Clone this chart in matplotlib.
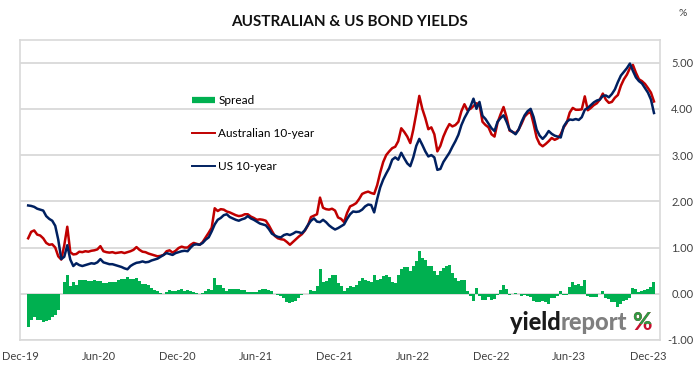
import pandas as pd
import matplotlib.pyplot as plt
import matplotlib.dates as mdates
from matplotlib.lines import Line2D
from matplotlib.transforms import Bbox
from matplotlib.ticker import FormatStrFormatter

plt.rcParams['font.family'] = ['Lato', 'DejaVu Sans']

# weekly closes
weeks = pd.date_range('2019-12-20', periods=209, freq='7D')

us_10y = [1.91, 1.90, 1.88, 1.84, 1.82, 1.80, 1.68, 1.62, 1.58, 1.47,
          1.17, 0.75, 0.80, 1.05, 0.74, 0.60, 0.66, 0.62, 0.60, 0.62,
          0.64, 0.66, 0.65, 0.68, 0.75, 0.68, 0.66, 0.64, 0.64, 0.62,
          0.60, 0.58, 0.55, 0.53, 0.60, 0.64, 0.67, 0.68, 0.70, 0.68,
          0.69, 0.72, 0.74, 0.76, 0.80, 0.84, 0.88, 0.86, 0.84, 0.88,
          0.90, 0.92, 0.93, 0.92, 1.00, 1.06, 1.07, 1.06, 1.10, 1.17,
          1.22, 1.35, 1.50, 1.60, 1.64, 1.70, 1.72, 1.66, 1.63, 1.60,
          1.58, 1.61, 1.63, 1.68, 1.63, 1.60, 1.56, 1.52, 1.50, 1.48,
          1.40, 1.30, 1.26, 1.23, 1.22, 1.27, 1.29, 1.27, 1.30, 1.34,
          1.33, 1.31, 1.38, 1.49, 1.58, 1.63, 1.56, 1.55, 1.60, 1.55,
          1.48, 1.43, 1.39, 1.42, 1.46, 1.50, 1.62, 1.72, 1.78, 1.77,
          1.78, 1.82, 1.89, 1.93, 1.92, 1.76, 2.05, 2.30, 2.47, 2.60,
          2.72, 2.90, 2.95, 2.90, 3.05, 2.93, 2.82, 2.76, 2.95, 3.20,
          3.35, 3.22, 3.08, 2.97, 3.00, 2.95, 2.68, 2.70, 2.85, 2.95,
          3.05, 3.18, 3.30, 3.44, 3.65, 3.80, 3.92, 4.05, 4.22, 4.00,
          4.15, 3.85, 3.78, 3.68, 3.58, 3.52, 3.72, 3.80, 3.86, 3.72,
          3.55, 3.50, 3.45, 3.55, 3.72, 3.86, 3.95, 4.00, 3.82, 3.55,
          3.42, 3.35, 3.42, 3.52, 3.46, 3.42, 3.40, 3.38, 3.62, 3.72,
          3.77, 3.76, 3.78, 3.76, 3.82, 3.98, 4.02, 4.08, 4.14, 4.18,
          4.20, 4.28, 4.29, 4.25, 4.32, 4.42, 4.58, 4.72, 4.80, 4.88,
          4.98, 4.82, 4.68, 4.60, 4.55, 4.45, 4.35, 4.20, 3.91]

aus_10y = [1.20, 1.34, 1.37, 1.28, 1.26, 1.20, 1.10, 1.06, 1.07, 1.00,
           0.81, 0.74, 1.05, 1.45, 0.90, 0.85, 0.86, 0.91, 0.90, 0.92,
           0.91, 0.93, 0.94, 0.96, 1.03, 0.92, 0.90, 0.89, 0.90, 0.88,
           0.89, 0.90, 0.88, 0.90, 0.92, 0.95, 1.01, 0.95, 0.91, 0.90,
           0.87, 0.85, 0.83, 0.81, 0.82, 0.84, 0.92, 0.94, 0.89, 0.93,
           0.99, 1.02, 1.00, 1.00, 1.06, 1.10, 1.08, 1.06, 1.12, 1.22,
           1.32, 1.43, 1.85, 1.79, 1.83, 1.82, 1.78, 1.76, 1.73, 1.70,
           1.68, 1.69, 1.72, 1.72, 1.67, 1.64, 1.60, 1.61, 1.60, 1.58,
           1.48, 1.36, 1.25, 1.20, 1.18, 1.17, 1.12, 1.06, 1.12, 1.18,
           1.24, 1.29, 1.37, 1.48, 1.66, 1.69, 1.72, 2.08, 1.86, 1.83,
           1.82, 1.84, 1.80, 1.65, 1.62, 1.55, 1.75, 1.89, 1.92, 1.96,
           2.05, 2.16, 2.19, 2.21, 2.18, 2.16, 2.35, 2.62, 2.85, 3.00,
           3.08, 3.15, 3.18, 3.30, 3.58, 3.50, 3.40, 3.26, 3.55, 3.90,
           4.28, 4.00, 3.80, 3.56, 3.60, 3.45, 3.08, 3.20, 3.40, 3.55,
           3.67, 3.62, 3.65, 3.72, 3.95, 4.10, 3.97, 4.00, 4.06, 4.12,
           4.10, 3.72, 3.65, 3.60, 3.45, 3.40, 3.70, 3.88, 4.04, 3.82,
           3.53, 3.50, 3.47, 3.55, 3.68, 3.83, 3.90, 3.93, 3.67, 3.38,
           3.24, 3.19, 3.24, 3.30, 3.37, 3.33, 3.36, 3.45, 3.60, 3.70,
           3.92, 4.02, 3.98, 3.98, 3.99, 4.27, 3.97, 4.02, 4.08, 4.12,
           4.20, 4.33, 4.20, 4.13, 4.15, 4.24, 4.30, 4.50, 4.64, 4.74,
           4.88, 4.95, 4.78, 4.64, 4.60, 4.54, 4.45, 4.35, 4.16]

spread = [a - u for a, u in zip(aus_10y, us_10y)]

green = '#00b050'
red = '#c00000'
navy = '#002060'
grey = '#d9d9d9'

fig = plt.figure(figsize=(6.99, 3.84), dpi=100)
ax = fig.add_axes([20/699, 44/384, 640/699, 300.5/384])

ax.bar(weeks, spread, width=7, color=green, linewidth=0, zorder=2)
ax.plot(weeks, aus_10y, color=red, lw=1.8, zorder=3)
ax.plot(weeks, us_10y, color=navy, lw=1.8, zorder=4)

ax.set_xlim(pd.Timestamp('2019-12-01'), pd.Timestamp('2023-12-29'))
ax.set_ylim(-1, 5.5)
ax.set_yticks(range(-1, 6))
ax.yaxis.set_major_formatter(FormatStrFormatter('%.2f'))
ax.yaxis.tick_right()
ax.yaxis.grid(True, color=grey, lw=1.3, zorder=0)
ax.set_axisbelow(True)
for s in ax.spines.values():
    s.set_color(grey)
    s.set_linewidth(1.2)

ax.xaxis.set_major_locator(mdates.MonthLocator(bymonth=(6, 12)))
ax.xaxis.set_major_formatter(mdates.DateFormatter('%b-%y'))
ax.tick_params(axis='x', length=0, pad=8, labelsize=8, labelcolor='#404040')
ax.tick_params(axis='y', length=0, pad=24, labelsize=8, labelcolor='#404040')
for lbl in ax.get_yticklabels():
    lbl.set_horizontalalignment('right')

handles = [Line2D([], [], color=green, lw=4.5, solid_capstyle='butt'),
           Line2D([], [], color=red, lw=1.4),
           Line2D([], [], color=navy, lw=1.4)]
ax.legend(handles, ['Spread', 'Australian 10-year', 'US 10-year'],
          loc='upper left', bbox_to_anchor=(0.269, 0.815), frameon=False,
          fontsize=8.5, labelspacing=1.85, handlelength=1.95,
          handletextpad=0.25, borderpad=0, borderaxespad=0)

fig.text(0.5, 1 - 22/384, 'AUSTRALIAN & US BOND YIELDS', ha='center',
         va='center', fontsize=11, weight='bold', color='#111111')
fig.text(683/699, 1 - 13/384, '%', ha='center', va='center', fontsize=7.5,
         color='#404040')

# yieldreport logo, pieces chained left to right
r = fig.canvas.get_renderer()
logo_font = dict(fontsize=17, weight='black', va='baseline', ha='left')
x = 510
base_y = 1 - 330/384
for word, col in [('yield', '#1a1a1a'), ('report', '#7f7f7f')]:
    t = fig.text(x/699, base_y, word, color=col, **logo_font)
    x = t.get_window_extent(r).x1
x += 5
pct_red = fig.text(x/699, base_y, '%', color='#c8102e', **logo_font)
pct_green = fig.text(x/699, base_y, '%', color='#2e9a44', **logo_font)
bb = pct_red.get_window_extent(r)
# green on the upper part of the sign, red circle below
pct_green.set_clip_box(Bbox([[bb.x0 - 2, bb.y0 + 0.42*bb.height],
                             [bb.x1 + 2, bb.y1 + 2]]))

plt.savefig('out.png', dpi=100)
